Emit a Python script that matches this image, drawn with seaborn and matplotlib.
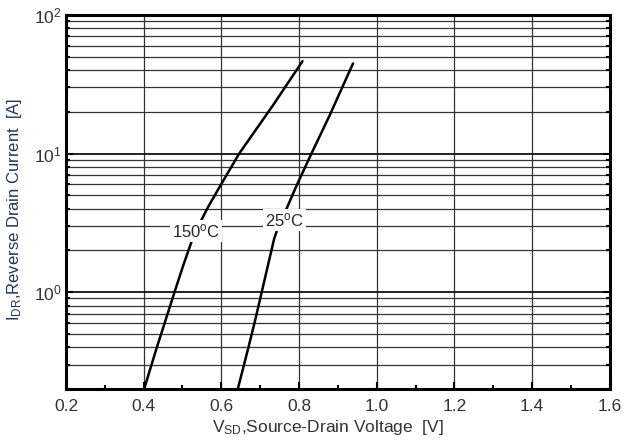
import numpy as np
import pandas as pd
import matplotlib
matplotlib.use('Agg')
import matplotlib.pyplot as plt
from matplotlib.ticker import LogLocator, NullFormatter, MultipleLocator
import seaborn as sns

# curve points
v_150 = [0.402, 0.433, 0.455, 0.479, 0.502, 0.526, 0.546, 0.566, 0.598, 0.646, 0.733, 0.809]
i_150 = [0.203, 0.391, 0.609, 0.99, 1.56, 2.43, 3.20, 4.12, 5.90, 10.0, 22.3, 46.4]
v_25 = [0.643, 0.669, 0.686, 0.704, 0.720, 0.736, 0.750, 0.770, 0.794, 0.832, 0.879, 0.939]
i_25 = [0.203, 0.391, 0.609, 1.00, 1.56, 2.43, 3.15, 4.12, 5.90, 10.0, 18.9, 44.7]

x_ticks = [0.2, 0.4, 0.6, 0.8, 1.0, 1.2, 1.4, 1.6]
x_ticklabels = ['0.2', '0.4', '0.6', '0.8', '1.0', '1.2', '1.4', '1.6']

df = pd.concat([
    pd.DataFrame({'vsd': v_150, 'idr': i_150, 'temp': '150'}),
    pd.DataFrame({'vsd': v_25, 'idr': i_25, 'temp': '25'}),
])

sns.set_style('white')
plt.rcParams['font.family'] = ['Liberation Sans', 'DejaVu Sans']
plt.rcParams['mathtext.fontset'] = 'custom'
plt.rcParams['mathtext.rm'] = 'Liberation Sans'
plt.rcParams['mathtext.it'] = 'Liberation Sans'

fig = plt.figure(figsize=(6.28, 4.41), dpi=100)
ax = fig.add_axes([0.105, 0.118, 0.866, 0.848])

for t in ['150', '25']:
    sns.lineplot(data=df[df['temp'] == t], x='vsd', y='idr', ax=ax,
                 color='black', linewidth=1.8, estimator=None, zorder=3)

ax.set_yscale('log')
ax.set_xlim(0.2, 1.6)
ax.set_ylim(0.2, 100)

ax.set_xticks(x_ticks)
ax.set_xticklabels(x_ticklabels)
ax.xaxis.set_minor_locator(MultipleLocator(0.1))
ax.yaxis.set_major_locator(LogLocator(base=10))
ax.yaxis.set_minor_locator(LogLocator(base=10, subs=np.arange(2, 10)))
ax.yaxis.set_minor_formatter(NullFormatter())

ax.grid(which='major', axis='x', color='#333333', linewidth=0.9)
ax.grid(which='major', axis='y', color='#111111', linewidth=1.3)
ax.grid(which='minor', axis='y', color='#333333', linewidth=0.9)
ax.set_axisbelow(True)

ax.tick_params(which='both', direction='in', left=True, right=True, bottom=True,
               top=False, color='black', labelcolor='#333333', labelsize=12.5)
ax.tick_params(which='major', length=5, width=1.5)
ax.tick_params(which='minor', length=3, width=1.5)
ax.tick_params(axis='x', pad=7)
ax.tick_params(axis='y', pad=3)

for s in ax.spines.values():
    s.set_linewidth(2.2)
    s.set_color('black')

ax.set_xlabel('V$_{\\mathrm{SD}}$,Source-Drain Voltage  [V]', fontsize=12.5,
              color='#333333')
ax.set_ylabel('I$_{\\mathrm{DR}}$,Reverse Drain Current  [A]', fontsize=12,
              color='#1f3558')
ax.xaxis.set_label_coords(0.482, -0.078)
ax.yaxis.set_label_coords(-0.078, 0.48)

box = dict(facecolor='white', edgecolor='none', pad=1.5)
ax.text(0.535, 2.75, '150$^{\\mathrm{o}}$C', fontsize=12, ha='center', va='center',
        bbox=box, zorder=4)
ax.text(0.763, 3.3, '25$^{\\mathrm{o}}$C', fontsize=12, ha='center', va='center',
        bbox=box, zorder=4)

fig.savefig('out.png', dpi=100, facecolor='white')
